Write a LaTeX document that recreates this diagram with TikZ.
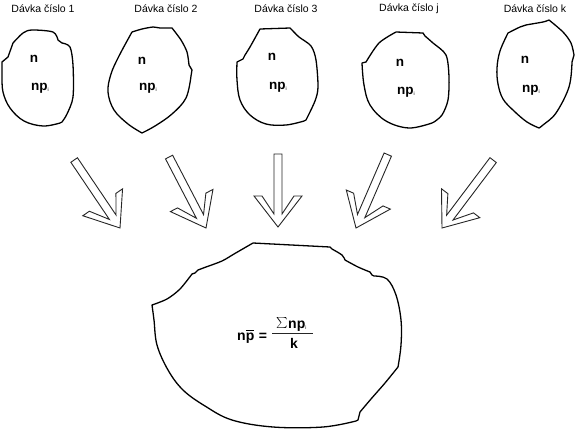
\documentclass[tikz,border=0pt]{standalone}
\usepackage{fontspec}
\usepackage{amsmath}
\setmainfont{Liberation Sans}
\begin{document}
\begin{tikzpicture}[x=1pt,y=-1pt,
  blob/.style={draw=black,line width=1.3pt,line join=round},
  hollowarrow/.style={draw=black!85,line width=0.9pt,line join=miter,fill=white},
  lbl/.style={inner sep=0pt,font=\fontsize{10.5}{12}\selectfont},
  btxt/.style={inner sep=0pt,font=\bfseries\fontsize{13.5}{15}\selectfont},
  ftxt/.style={inner sep=0pt,font=\bfseries\fontsize{14}{16}\selectfont},
]
\useasboundingbox (0,0) rectangle (576,429);
\newcommand{\subi}{\raisebox{-1.5pt}{\fontsize{5}{6}\selectfont\mdseries i}}

% labels
\node[lbl] (l1) at (43,9) {Dávka číslo 1};
\node[lbl] (l2) at (166,9) {Dávka číslo 2};
\node[lbl] (l3) at (286,9) {Dávka číslo 3};
\node[lbl] (lj) at (409,9) {Dávka číslo j};
\node[lbl] (lk) at (535,9) {Dávka číslo k};

% blob 1
\draw[blob] plot[smooth,tension=0.5] coordinates {(13,43) (23,33) (32,30) (53,32) (58,40)}
  -- plot[smooth,tension=0.5] coordinates {(62,43) (70,47) (73,65) (73,97) (67,114) (62,122)}
  -- plot[smooth,tension=0.6] coordinates {(60,123) (43,126) (24,121) (10,108) (3,92) (2,75) (2,62)}
  -- (8,57) -- cycle;
% blob 2
\draw[blob] plot[smooth,tension=0.4] coordinates {(132,32) (142,29) (153,27) (160,28) (172,28)}
  -- plot[smooth,tension=0.5] coordinates {(172,28) (181,40) (187,52) (189,65)}
  -- (192,70) -- plot[smooth,tension=0.6] coordinates {(191,76) (186,98) (172,114) (155,126) (142,133)}
  -- plot[smooth,tension=0.6] coordinates {(142,133) (128,124) (114,110) (108,92) (111,74) (119,56) (132,32)};
% blob 3
\draw[blob] plot[smooth,tension=0.5] coordinates {(260,29) (290,28)}
  -- plot[smooth,tension=0.5] coordinates {(292,30) (299,37) (311,46) (316,60) (318,87) (315,101) (306,120)}
  -- plot[smooth,tension=0.6] coordinates {(304,121) (286,125) (266,124) (250,115) (240,100) (237,80) (237,62)}
  -- (243,59) -- plot[smooth,tension=0.5] coordinates {(245,55) (250,47) (260,29)};
% blob j
\draw[blob] (396,32) -- (423,33)
  -- plot[smooth,tension=0.5] coordinates {(425,36) (433,43) (446,55) (449,77) (448,100) (442,115) (434,122)}
  -- plot[smooth,tension=0.6] coordinates {(432,123) (409,128) (386,121) (370,105) (364,85) (362,63)}
  -- (366,62) -- plot[smooth,tension=0.5] coordinates {(366,62) (379,43) (396,32)};
% blob k
\draw[blob] plot[smooth,tension=0.5] coordinates {(508,33) (520,27) (526,25) (543,22) (549,20)}
  -- plot[smooth,tension=0.5] coordinates {(549,20) (563,32) (571,43) (574,55)}
  -- plot[smooth,tension=0.6] coordinates {(572,62) (569,87) (556,113) (543,125) (539,128)}
  -- plot[smooth,tension=0.6] coordinates {(539,128) (527,122) (514,111) (503,99) (498,84) (497,68) (500,51) (508,33)};

% blob texts
\node[btxt] (n1) at (34,59) {n};
\node[btxt] (p1) at (40,88) {np\subi};
\node[btxt] (n2) at (142,61) {n};
\node[btxt] (p2) at (148,88) {np\subi};
\node[btxt] (n3) at (272,57) {n};
\node[btxt] (p3) at (278,87) {np\subi};
\node[btxt] (nj) at (400,63) {n};
\node[btxt] (pj) at (406,92) {np\subi};
\node[btxt] (nk) at (525,60) {n};
\node[btxt] (pk) at (531,90) {np\subi};

% hollow arrows
\foreach \tx/\ty/\ang/\len in {120/228/34/82, 206/228/27.5/80, 278/227/0/73, 356/228/-23.4/80, 442/228/-37/85}
  \draw[hollowarrow, shift={(\tx,\ty)}, rotate=\ang]
    (0,0) -- (-24,-31) -- (-16,-31) -- (-4,-13) -- (-4,-\len) -- (4,-\len) -- (4,-13)
    -- (16,-31) -- (24,-31) -- cycle;

% big blob
\draw[blob] (253,243) -- (330,247)
  -- plot[smooth,tension=0.5] coordinates {(332,249) (342,255) (345,260)}
  -- plot[smooth,tension=0.5] coordinates {(345,260) (358,267) (370,272)}
  -- (372,275) -- plot[smooth,tension=0.6] coordinates {(374,276) (387,279) (396,295) (401,320) (401,345) (398,367)}
  -- plot[smooth,tension=0.5] coordinates {(398,367) (385,383) (371,399) (360,412)}
  -- (358,420) -- plot[smooth,tension=0.6] coordinates {(356,421) (323,427) (273,427) (232,420) (205,406) (183,390) (168,370) (157,345) (154,320) (152,305)}
  -- plot[smooth,tension=0.5] coordinates {(152,305) (167,299) (180,289) (192,274)}
  -- (195,273) -- plot[smooth,tension=0.5] coordinates {(198,270) (206,267) (222,261) (234,254) (253,243)};

% formula
\node[ftxt,anchor=base west] (lhs) at (237,340) {n$\overline{\text{p}}$};
\node[ftxt,anchor=base] (eq) at (263,340) {=};
\coordinate (fl) at (272,333);
\coordinate (fr) at (313,333);
\draw[line width=0.8pt,black!85] (fl) -- (fr);
\node[inner sep=0pt,font=\fontsize{11}{13}\selectfont] (sig) at (282,322.5) {$\sum$};
\node[ftxt,anchor=base west] (num) at (288,328) {np\subi};
\node[ftxt,anchor=base] (den) at (294,348) {k};
\end{tikzpicture}
\end{document}
